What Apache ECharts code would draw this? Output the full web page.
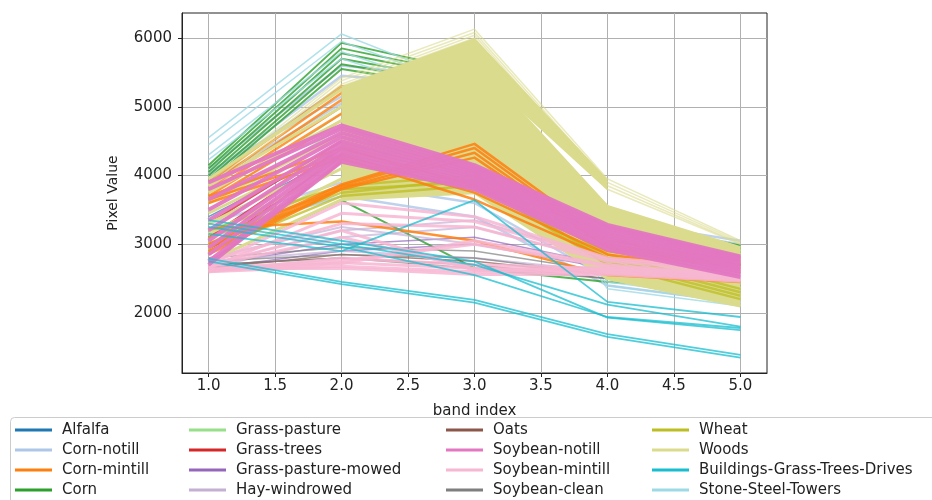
<!DOCTYPE html>
<html>
<head>
<meta charset="utf-8">
<script src="https://cdn.jsdelivr.net/npm/echarts@6/dist/echarts.min.js"></script>
<style>
  html, body { margin: 0; padding: 0; background: #fff; }
  #main { width: 932px; height: 500px; }
</style>
</head>
<body>
<div id="main"></div>
<script>
// band positions and axis ticks
const bandIndex = [1, 2, 3, 4, 5];
const xTicks = [1.0, 1.5, 2.0, 2.5, 3.0, 3.5, 4.0, 4.5, 5.0];
const yTicks = [2000, 3000, 4000, 5000, 6000];

// legend order (4 columns)
const classNames = [
  'Alfalfa', 'Corn-notill', 'Corn-mintill', 'Corn',
  'Grass-pasture', 'Grass-trees', 'Grass-pasture-mowed', 'Hay-windrowed',
  'Oats', 'Soybean-notill', 'Soybean-mintill', 'Soybean-clean',
  'Wheat', 'Woods', 'Buildings-Grass-Trees-Drives', 'Stone-Steel-Towers'
];
const classColors = [
  '#1f77b4', '#aec7e8', '#ff7f0e', '#2ca02c',
  '#98df8a', '#d62728', '#9467bd', '#c5b0d5',
  '#8c564b', '#e377c2', '#f7b6d2', '#7f7f7f',
  '#bcbd22', '#dbdb8d', '#17becf', '#9edae5'
];

// pixel values per band (one row = one pixel)
const alfalfa = [
  [3300, 4300, 4100, 3000, 2650],
  [3400, 4400, 4200, 3050, 2700]
];
const grassPasture = [
  [3600, 4900, 5450, 3400, 2900],
  [3500, 4700, 5200, 3300, 2850]
];
const cornNotill = [
  [4100, 5600, 5400, 3350, 3050],
  [4000, 5450, 5300, 3300, 3000],
  [3950, 5300, 5200, 3250, 2950],
  [4050, 5150, 5100, 3200, 2900],
  [3900, 5050, 5000, 3150, 2850],
  [3300, 3900, 3600, 2500, 2250],
  [3100, 3700, 3400, 2400, 2150]
];
const corn = [
  [4150, 5930, 5500, 3350, 2980],
  [4100, 5850, 5450, 3320, 2960],
  [4050, 5780, 5400, 3300, 2940],
  [4000, 5700, 5350, 3280, 2920],
  [3950, 5620, 5300, 3250, 2900],
  [3900, 5550, 5250, 3220, 2880],
  [2750, 3640, 2650, 2450, 2350]
];
const stoneSteel = [
  [4550, 6060, 5300, 2500, 2250],
  [4450, 5950, 5250, 2450, 2200],
  [4300, 5800, 5150, 2400, 2150],
  [4230, 5700, 5100, 2350, 2100]
];
const cornMintillHigh = [
  [3900, 5300, 5300, 3250, 2850],
  [3850, 5200, 5200, 3200, 2800],
  [3800, 5100, 5100, 3150, 2800],
  [3750, 5000, 5000, 3100, 2750],
  [3700, 4900, 4900, 3050, 2750],
  [3650, 4800, 4800, 3000, 2700]
];
const grassTrees = [
  [3300, 4500, 4100, 3100, 2700],
  [3100, 4400, 4000, 3000, 2650],
  [2900, 4300, 3900, 2950, 2600],
  [2700, 4200, 3850, 2900, 2600]
];
const grassPastureMowed = [
  [2700, 3000, 3100, 2700, 2500],
  [2650, 2900, 3000, 2650, 2450]
];
const hayWindrowed = [
  [2700, 3200, 3350, 2800, 2600],
  [2650, 3100, 3250, 2750, 2550],
  [2800, 3250, 3000, 2700, 2500],
  [2750, 2900, 2800, 2600, 2500]
];
const oats = [
  [2650, 2850, 2750, 2550, 2450],
  [2700, 2800, 2700, 2500, 2400]
];
const soybeanClean = [
  [2750, 2850, 2800, 2550, 2450],
  [2800, 2950, 2900, 2600, 2500],
  [2700, 2800, 2650, 2500, 2400]
];
// dense Woods body: upper / lower edge per band (main mass and brighter top group)
const woodsUpper = [null, 5250, 5650, 3550, 2950];
const woodsLower = [null, 3650, 3750, 2480, 2100];
const woodsTopUpper = [null, 5300, 6000, 3950, null];
const woodsTopLower = [null, 5150, 5550, 3780, null];
const woods = [
  [3950, 5250, 5650, 3550, 2950],
  [3850, 5000, 5500, 3400, 2900],
  [3750, 4800, 5300, 3250, 2850],
  [3600, 4600, 5100, 3100, 2750],
  [3450, 4400, 4900, 2950, 2650],
  [3300, 4250, 4700, 2850, 2550],
  [3150, 4100, 4450, 2800, 2450],
  [3000, 3950, 4200, 2700, 2350],
  [2900, 3800, 4000, 2600, 2250],
  [2750, 3650, 3750, 2500, 2100]
];
const woodsOutliers = [
  [3900, 5420, 6130, 3950, 3050],
  [3850, 5380, 6080, 3900, 3030],
  [3800, 5330, 6040, 3850, 3010],
  [3750, 5300, 6000, 3800, 3000]
];
const wheat = [
  [3000, 3750, 3950, 2750, 2250],
  [3100, 3800, 3900, 2700, 2200],
  [2900, 3700, 3850, 2800, 2300],
  [3200, 3850, 4000, 2850, 2350]
];
const cornMintill = [
  [3000, 3870, 4460, 3050, 2750],
  [2950, 3850, 4400, 3000, 2700],
  [2900, 3820, 4330, 2950, 2700],
  [2850, 3800, 4260, 2950, 2650],
  [3700, 4400, 3850, 2900, 2650],
  [3650, 4300, 3750, 2850, 2600],
  [3600, 4250, 3650, 2800, 2600],
  [3230, 3330, 3050, 2550, 2450]
];
const soybeanMintill = [
  [2700, 3600, 3400, 2800, 2650],
  [2650, 3450, 3330, 2780, 2620],
  [2750, 3300, 3250, 2750, 2600],
  [2600, 2800, 2700, 2650, 2550],
  [2620, 2730, 2650, 2620, 2520],
  [2600, 2680, 2600, 2580, 2480],
  [2640, 2650, 2560, 2560, 2460],
  [2700, 3200, 2620, 2600, 2500],
  [2680, 3100, 2640, 2640, 2520],
  [2620, 2720, 3050, 2700, 2560],
  [2650, 2760, 3000, 2680, 2540]
];
const soybeanNotill = [
  [3900, 4730, 4150, 3280, 2820],
  [3800, 4680, 4120, 3250, 2800],
  [3650, 4620, 4080, 3220, 2780],
  [3500, 4560, 4050, 3180, 2750],
  [3350, 4500, 4010, 3150, 2720],
  [3200, 4450, 3980, 3110, 2690],
  [3050, 4400, 3940, 3080, 2660],
  [2950, 4350, 3900, 3040, 2630],
  [2850, 4300, 3870, 3000, 2600],
  [2750, 4250, 3830, 2960, 2560],
  [2700, 4200, 3800, 2920, 2520]
];
const buildings = [
  [2750, 2420, 2150, 1650, 1350],
  [2790, 2450, 2190, 1690, 1390],
  [3250, 2960, 2550, 1940, 1780],
  [3150, 2900, 3640, 2160, 1940],
  [3300, 3000, 2700, 2120, 1800],
  [3350, 3050, 2750, 1930, 1750]
];

const colorOf = name => classColors[classNames.indexOf(name)];

// drawing order, bottom first: [class, rows, line width, opacity]
const layers = [
  ['Alfalfa', alfalfa, 1.5, 0.7],
  ['Grass-pasture', grassPasture, 1.5, 0.7],
  ['Corn-notill', cornNotill, 2.5, 0.8],
  ['Corn', corn, 2, 0.8],
  ['Stone-Steel-Towers', stoneSteel, 1.5, 0.8],
  ['Corn-mintill', cornMintillHigh, 2.5, 0.8],
  ['Grass-trees', grassTrees, 2, 0.8],
  ['Grass-pasture-mowed', grassPastureMowed, 1.5, 0.7],
  ['Hay-windrowed', hayWindrowed, 2, 0.7],
  ['Oats', oats, 1.5, 0.7],
  ['Soybean-clean', soybeanClean, 1.5, 0.7],
  ['Woods', woods, 3, 1],
  ['Woods', woodsOutliers, 1.5, 0.6],
  ['Wheat', wheat, 2.5, 0.75],
  ['Corn-mintill', cornMintill, 2.5, 0.85],
  ['Soybean-mintill', soybeanMintill, 3, 0.85],
  ['Soybean-notill', soybeanNotill, 4, 0.95],
  ['Buildings-Grass-Trees-Drives', buildings, 1.8, 0.75]
];

// filled polygon between two edges, drawn through the axes
function bandSeries(upper, lower, z) {
  return {
    type: 'custom',
    name: 'Woods',
    silent: true,
    z: z,
    data: [[3, 4000]],
    itemStyle: { color: colorOf('Woods') },
    renderItem: (params, api) => {
      const top = [], bottom = [];
      bandIndex.forEach((b, i) => {
        if (upper[i] == null) return;
        top.push(api.coord([b, upper[i]]));
        bottom.unshift(api.coord([b, lower[i]]));
      });
      return {
        type: 'polygon',
        shape: { points: top.concat(bottom) },
        style: { fill: colorOf('Woods') }
      };
    }
  };
}

const series = [];
layers.forEach(([name, rows, width, alpha]) => {
  if (rows === woods) {
    series.push(bandSeries(woodsUpper, woodsLower, 2 + series.length));
    series.push(bandSeries(woodsTopUpper, woodsTopLower, 2 + series.length));
  }
  rows.forEach(r => {
    series.push({
      type: 'line',
      name: name,
      z: 2 + series.length,
      data: bandIndex.map((b, i) => [b, r[i]]),
      showSymbol: false,
      silent: true,
      color: colorOf(name),
      lineStyle: { width: width, opacity: alpha, join: 'round' }
    });
  });
});

// one legend entry per slot, 4 columns x 4 rows
const colLeft = [15, 189, 446, 652];
const rowMid = [430, 450, 470, 490];
const legends = classNames.map((name, k) => ({
  orient: 'vertical',
  left: colLeft[Math.floor(k / 4)],
  top: rowMid[k % 4] - 8,
  data: [name],
  icon: 'rect',
  itemWidth: 37,
  itemHeight: 3,
  selectedMode: false,
  padding: 0,
  textStyle: { fontFamily: 'DejaVu Sans', fontSize: 15, color: '#222', lineHeight: 16, padding: [0, 0, 0, 5] }
}));

const chart = echarts.init(document.getElementById('main'));
chart.setOption({
  animation: false,
  backgroundColor: '#fff',
  grid: { left: 182, right: 165, top: 13, bottom: 127, show: true, borderColor: '#222', borderWidth: 1 },
  xAxis: {
    type: 'value', min: 0.8, max: 5.2,
    name: 'band index', nameLocation: 'middle', nameGap: 31,
    nameTextStyle: { fontFamily: 'DejaVu Sans', fontSize: 15, color: '#222' },
    axisLine: { show: true, lineStyle: { color: '#222' } },
    axisTick: { show: true, customValues: xTicks, length: 4, lineStyle: { color: '#222' } },
    axisLabel: { customValues: xTicks, formatter: v => v.toFixed(1), fontFamily: 'DejaVu Sans', fontSize: 15, color: '#222', margin: 6 },
    splitLine: { show: true, lineStyle: { color: '#b0b0b0', width: 1 } }
  },
  yAxis: {
    type: 'value', min: 1125, max: 6365,
    name: 'Pixel Value', nameLocation: 'middle', nameGap: 62, nameRotate: 90,
    nameTextStyle: { fontFamily: 'DejaVu Sans', fontSize: 14, color: '#222' },
    axisLine: { show: true, lineStyle: { color: '#222' } },
    axisTick: { show: true, customValues: yTicks, length: 4, lineStyle: { color: '#222' } },
    axisLabel: { customValues: yTicks, formatter: v => String(v), fontFamily: 'DejaVu Sans', fontSize: 15, color: '#222', margin: 10 },
    splitLine: { show: true, lineStyle: { color: '#b0b0b0', width: 1 } }
  },
  legend: legends,
  graphic: [{
    type: 'rect', left: 10, top: 417, z: -1,
    shape: { width: 940, height: 100, r: 4 },
    style: { fill: '#fff', stroke: '#cccccc', lineWidth: 1 }
  }],
  series: series
});
</script>
</body>
</html>
